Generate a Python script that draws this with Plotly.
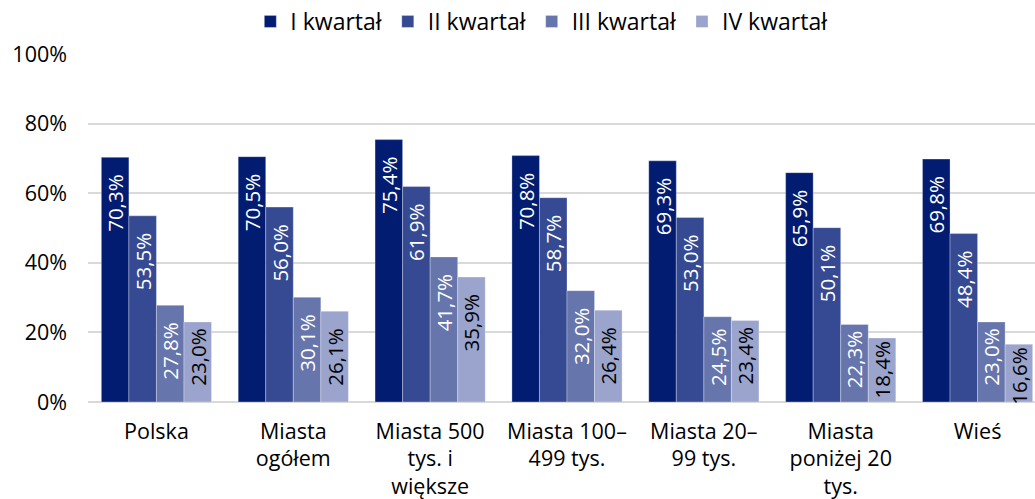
import plotly.graph_objects as go

categories = ["Polska", "Miasta<br>ogółem", "Miasta 500<br>tys. i<br>większe", "Miasta 100–<br>499 tys.",
              "Miasta 20–<br>99 tys.", "Miasta<br>poniżej 20<br>tys.", "Wieś"]
series_names = ["I kwartał", "II kwartał", "III kwartał", "IV kwartał"]
q1 = [70.3, 70.5, 75.4, 70.8, 69.3, 65.9, 69.8]
q2 = [53.5, 56.0, 61.9, 58.7, 53.0, 50.1, 48.4]
q3 = [27.8, 30.1, 41.7, 32.0, 24.5, 22.3, 23.0]
q4 = [23.0, 26.1, 35.9, 26.4, 23.4, 18.4, 16.6]
y_ticks = [0, 20, 40, 60, 80, 100]

colors = ["#021c72", "#354a92", "#6675ab", "#9aa4cc"]
text_colors = ["white", "white", "white", "black"]
FONT = "Open Sans, Noto Sans, DejaVu Sans, sans-serif"


def label(v):
    s = f"{v:.1f}%".replace(".", ",")
    # inner padding at the top end of the rotated label (as in the original)
    if v >= 25.5:
        pad = "\u00a0\u00a0\u2009"
    elif v >= 23.5:
        pad = "\u00a0\u2009"
    elif v >= 22:
        pad = "\u2009"
    else:
        pad = ""
    return s + pad


fig = go.Figure()
for name, vals, c, tc in zip(series_names, [q1, q2, q3, q4], colors, text_colors):
    fig.add_trace(go.Bar(
        x=categories, y=vals, name=name,
        marker=dict(color=c, line=dict(color="rgba(255,255,255,0.6)", width=0.5)),
        text=[label(v) for v in vals],
        textposition="inside", insidetextanchor="end", textangle=-90,
        textfont=dict(color=tc, size=20.5, family=FONT),
        cliponaxis=False,
    ))

fig.update_layout(
    width=1046, height=499,
    barmode="group", bargap=0.195, bargroupgap=0,
    plot_bgcolor="white", paper_bgcolor="white",
    margin=dict(l=88, r=0, t=54, b=97),
    font=dict(family=FONT, size=21, color="black"),
    uniformtext=dict(minsize=20.5, mode="show"),
    legend=dict(orientation="h", x=0.518, xanchor="center", xref="container",
                y=1.0, yanchor="top", yref="container",
                font=dict(size=23), itemwidth=30, traceorder="normal"),
    xaxis=dict(showgrid=False, showline=False, ticks="", tickfont=dict(size=21.5),
               ticklabelstandoff=14, automargin=False),
    yaxis=dict(range=[0, 100], tickvals=y_ticks, ticktext=[f"{t}%" for t in y_ticks],
               showgrid=True, gridcolor="#d9d9d9", gridwidth=2,
               zeroline=True, zerolinecolor="#d9d9d9", zerolinewidth=2,
               showline=False, ticks="", ticklabelstandoff=20, tickfont=dict(size=21.5),
               automargin=False),
)

fig.write_html("out.html", config={"displayModeBar": False},
               post_script="document.body.style.margin='0';document.body.style.overflow='hidden';")
